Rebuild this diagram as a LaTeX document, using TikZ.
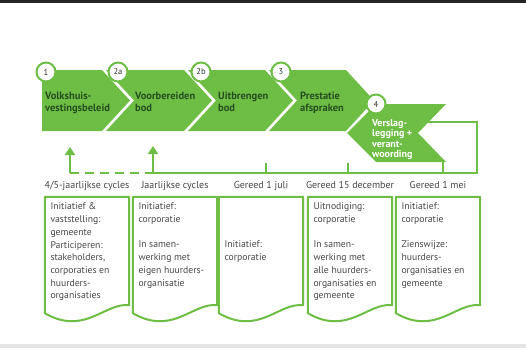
\documentclass[tikz,border=0pt]{standalone}
\usepackage{fontspec}
\setmainfont{PT Sans}
\usepackage{xcolor}
\usepackage{tikz}
\usetikzlibrary{positioning, calc, arrows.meta}

\definecolor{rogroen}{RGB}{110,190,70}
\definecolor{donkergroen}{RGB}{38,78,30}
\definecolor{tekstgrijs}{RGB}{70,70,70}

\begin{document}
\begin{tikzpicture}[x=1pt, y=-1pt,
    fase/.style={fill=rogroen},
    nummer/.style={circle, draw=rogroen, line width=2pt, fill=white, minimum size=19pt, inner sep=0pt,
      font=\fontsize{8.5}{9}\selectfont, text=black!80},
    fasetekst/.style={anchor=north west, inner sep=0pt, align=left, text=donkergroen,
      font=\fontsize{10.5}{12.7}\selectfont\bfseries},
    blad/.style={minimum width=84pt, minimum height=108pt, inner sep=0pt},
    bladrand/.style={draw=rogroen, line width=2pt, line join=round},
    bladtekst/.style={inner sep=0pt, align=left, text=tekstgrijs, font=\fontsize{9.7}{12.7}\selectfont},
    kop/.style={text=tekstgrijs, font=\fontsize{10}{11}\selectfont, inner sep=0pt, text height=7pt, text depth=2.5pt},
    lijn/.style={rogroen, line width=2pt},
    pijl/.style={lijn, -{Triangle[width=10pt,length=8pt]}}]

  \useasboundingbox (0,0) rectangle (526,348);
  \fill[black!85] (0,0) rectangle (526,2.5);
  \fill[black!10] (0,344) rectangle (526,348);

  % tijdlijn
  \coordinate (v1) at (70,173);
  \coordinate (v2) at (153,173);
  \coordinate (h1) at (477,173);
  \coordinate (h2) at (477,122);
  \coordinate (h3) at (428,122);
  \coordinate (p1) at (70,147);
  \coordinate (p2) at (153,146);
  \coordinate (k1) at (266,163);
  \coordinate (k2) at (348,163);
  \coordinate (k3) at (443,160);
  \draw[lijn, dash pattern=on 9pt off 6pt] (v1) -- (v2);
  \draw[lijn] (v2) -- (h1) -- (h2) -- (h3);
  \draw[pijl] (v1) -- (p1);
  \draw[pijl] (v2) -- (p2);
  \foreach \k in {k1,k2,k3}
    \draw[lijn] (\k) -- (\k |- v2);

  % fasen
  \fill[fase] (42,70) -- (102,70) -- (130,100.5) -- (102,131) -- (42,131) -- cycle;
  \fill[fase] (106,70) -- (184,70) -- (212,100.5) -- (184,131) -- (106,131) -- (134,100.5) -- cycle;
  \fill[fase] (188,70) -- (265,70) -- (293,100.5) -- (265,131) -- (188,131) -- (216,100.5) -- cycle;
  \fill[fase] (269,70) -- (346,70) -- (374,100.5) -- (346,131) -- (269,131) -- (297,100.5) -- cycle;
  \fill[fase] (376,104) -- (446,104) -- (418,133) -- (446,162) -- (376,162) -- (347,133) -- cycle;

  \node[nummer] (n1) at (46,72) {1};
  \node[nummer] (n2a) at (118,72) {2a};
  \node[nummer] (n2b) at (201,72) {2b};
  \node[nummer] (n3) at (281,72) {3};
  \node[nummer] (n4) at (376,104) {4};

  \node[fasetekst] (t1) at (45,91.5) {Volkshuis-\\vestingsbeleid};
  \node[fasetekst] (t2a) at (135,91.5) {Voorbereiden\\bod};
  \node[fasetekst] (t2b) at (218,91.5) {Uitbrengen\\bod};
  \node[fasetekst] (t3) at (300,91.5) {Prestatie\\afspraken};
  \node[fasetekst, text=white, font=\fontsize{10}{10.5}\selectfont\bfseries] (t4) at (372,119)
    {Verslag-\\legging +\\verant-\\woording};

  % bladen
  \node[blad] (b1) at (87,251) {};
  \node[blad] (b2) at (175,251) {};
  \node[blad] (b3) at (261,251) {};
  \node[blad] (b4) at (350,251) {};
  \node[blad] (b5) at (438,251) {};
  \foreach \i in {1,...,5}
    \draw[bladrand] (b\i.south east) -- (b\i.north east) -- (b\i.north west)
      -- ($(b\i.south west)+(0,8)$) .. controls ($(b\i.south west)+(40,31)$) and ($(b\i.south west)+(60,-3)$) .. (b\i.south east) -- cycle;

  \node[kop, above=6pt of b1] (l1) {4/5-jaarlijkse cycles};
  \node[kop, above=6pt of b2] (l2) {Jaarlijkse cycles};
  \node[kop, above=6pt of b3] (l3) {Gereed 1 juli};
  \node[kop, above=6pt of b4] (l4) {Gereed 15 december};
  \node[kop, above=6pt of b5] (l5) {Gereed 1 mei};

  \node[bladtekst, below right=6pt and 5.5pt of b1.north west] (i1)
    {Initiatief \&\\vaststelling:\\gemeente\\Participeren:\\stakeholders,\\corporaties en\\huurders-\\organisaties};
  \node[bladtekst, below right=6pt and 5.5pt of b2.north west] (i2)
    {Initiatief:\\corporatie\\[12.7pt]In samen-\\werking met\\eigen huurders-\\organisatie};
  \node[bladtekst, below right=44.1pt and 5.5pt of b3.north west] (i3)
    {Initiatief:\\corporatie};
  \node[bladtekst, below right=6pt and 5.5pt of b4.north west] (i4)
    {Uitnodiging:\\corporatie\\[12.7pt]In samen-\\werking met\\alle huurders-\\organisaties en\\gemeente};
  \node[bladtekst, below right=6pt and 5.5pt of b5.north west] (i5)
    {Initiatief:\\corporatie\\[12.7pt]Zienswijze:\\huurders-\\organisaties en\\gemeente};
\end{tikzpicture}
\end{document}
